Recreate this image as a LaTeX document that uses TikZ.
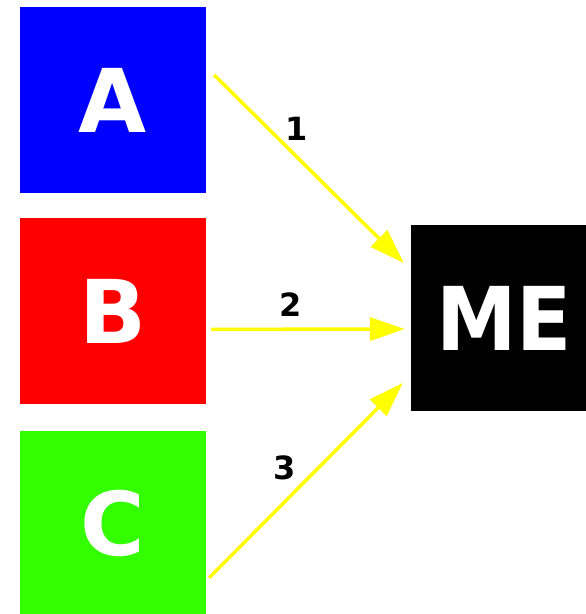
\documentclass[tikz,border=0pt]{standalone}
\usepackage{fontspec}
\setmainfont{DejaVu Sans}
\usetikzlibrary{arrows.meta,positioning}
\definecolor{boxblue}{RGB}{0,0,255}
\definecolor{boxred}{RGB}{255,0,0}
\definecolor{boxgreen}{RGB}{51,255,0}
\definecolor{feedyellow}{RGB}{255,255,0}
\tikzset{
  box/.style={
    minimum width=186pt,
    minimum height=186pt,
    inner sep=0pt,
    text=white,
    font=\bfseries\fontsize{88}{88}\selectfont,
    text height=64.2pt,
    text depth=0pt
  },
  tag/.style={
    font=\bfseries\fontsize{32}{32}\selectfont,
    inner sep=0pt,
    text height=23.3pt,
    text depth=0pt
  },
  feed/.style={
    draw=feedyellow,
    line width=3.5pt,
    -{Triangle[length=35pt,width=23pt]}
  }
}
\begin{document}
\begin{tikzpicture}[x=1pt,y=1pt]
    \useasboundingbox (0,0) rectangle (586,614);
    % sources
    \node[box, fill=boxblue] (A) at (113,514) {A};
    \node[box, fill=boxred, below=25pt of A] (B) {B};
    \node[box, fill=boxgreen, below=26pt of B] (C) {C};
    % target
    \node[box, fill=black] (me) at (504,295.5) {\scalebox{0.92}[1]{ME}};
    % links
    \draw[feed] ([shift={(8pt,25pt)}]A.east) -- ([shift={(-7pt,55.5pt)}]me.west);
    \draw[feed] ([shift={(5pt,-18pt)}]B.east) -- ([shift={(-6pt,-10.5pt)}]me.west);
    \draw[feed] ([shift={(3pt,-54pt)}]C.east) -- ([shift={(-8pt,-64.5pt)}]me.west);
    \node[tag] (n1) at (297,485) {1};
    \node[tag] (n2) at (291,309) {2};
    \node[tag] (n3) at (285,146) {3};
\end{tikzpicture}
\end{document}
